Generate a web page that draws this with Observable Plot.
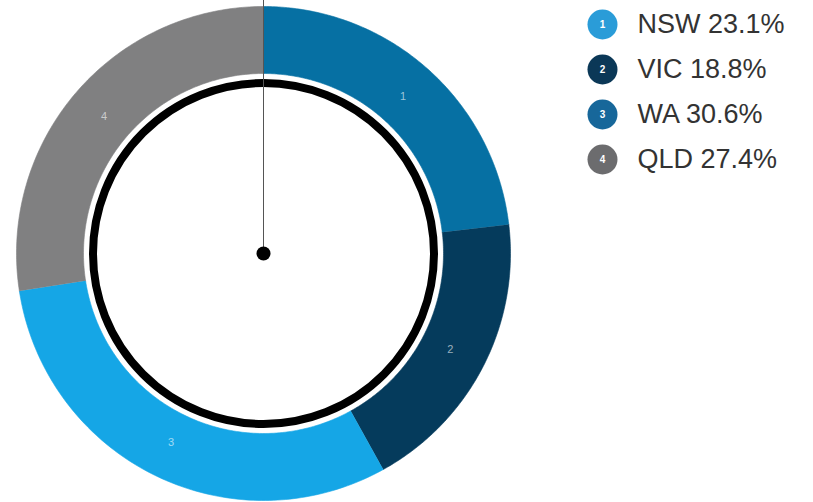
<!DOCTYPE html>
<html>
<head>
<meta charset="utf-8">
<script src="https://cdn.jsdelivr.net/npm/d3@7"></script>
<script src="https://cdn.jsdelivr.net/npm/@observablehq/plot@0.6"></script>
<style>
  html, body { margin: 0; padding: 0; background: #fff; }
  #chart svg { display: block; }
</style>
</head>
<body>
<div id="chart"></div>
<script>
// ---- data ----
const regions = ["NSW", "VIC", "WA", "QLD"];
const shares = [23.1, 18.8, 30.6, 27.4];
const segmentLabels = ["1", "2", "3", "4"];
const ringColors = ["#0670a3", "#053b5c", "#15a6e6", "#808081"];
const legendColors = ["#2a9cd8", "#0b3857", "#17679a", "#6c6c6e"];

// ---- geometry (data units = pixels) ----
const outerR = 247, innerR = 180, ringR = 170.5, labelR = 210;

const pie = d3.pie().sort(null).startAngle(0).endAngle(2 * Math.PI)(shares);

const sectorPts = [];
pie.forEach((p, i) => {
  const n = 120;
  for (let k = 0; k <= n; k++) {
    const a = p.startAngle + (p.endAngle - p.startAngle) * k / n;
    sectorPts.push({id: i, x: outerR * Math.sin(a), y: outerR * Math.cos(a), color: ringColors[i]});
  }
  for (let k = n; k >= 0; k--) {
    const a = p.startAngle + (p.endAngle - p.startAngle) * k / n;
    sectorPts.push({id: i, x: innerR * Math.sin(a), y: innerR * Math.cos(a), color: ringColors[i]});
  }
});

const labels = pie.map((p, i) => {
  const a = (p.startAngle + p.endAngle) / 2;
  return {x: labelR * Math.sin(a), y: labelR * Math.cos(a), t: segmentLabels[i]};
});

const legend = regions.map((r, i) => ({i, text: `${r} ${shares[i].toFixed(1)}%`, color: legendColors[i], num: segmentLabels[i]}));
const legX = 339, legTextX = 374, legY0 = 229, legStep = 45;

const chart = Plot.plot({
  width: 813,
  height: 502,
  margin: 0,
  x: {domain: [-263, 550], axis: null},
  y: {domain: [-249, 253], axis: null},
  color: {type: "identity"},
  style: {fontFamily: "'Liberation Sans', Arial, sans-serif", background: "#fff"},
  marks: [
    Plot.line(sectorPts, {x: "x", y: "y", z: "id", fill: "color", stroke: "color", strokeWidth: 0.6, curve: "linear"}),
    Plot.dot([0], {x: () => 0, y: () => 0, r: ringR, stroke: "#000", strokeWidth: 8, fill: "#fff"}),
    Plot.text(labels, {x: "x", y: "y", text: "t", fill: "#ffffff", fillOpacity: 0.6, fontSize: 11}),
    Plot.ruleX([0], {y1: 0, y2: 253, stroke: "#555", strokeWidth: 1}),
    Plot.dot([0], {x: () => 0, y: () => 0, r: 7, fill: "#000"}),
    Plot.dot(legend, {x: () => legX, y: d => legY0 - d.i * legStep, r: 15, fill: "color"}),
    Plot.text(legend, {x: () => legX, y: d => legY0 - d.i * legStep, text: "num", fill: "#fff", fontSize: 10, fontWeight: "bold"}),
    Plot.text(legend, {x: () => legTextX, y: d => legY0 - d.i * legStep, text: "text", textAnchor: "start", fill: "#333", fontSize: 27})
  ]
});
document.getElementById("chart").append(chart);
</script>
</body>
</html>
